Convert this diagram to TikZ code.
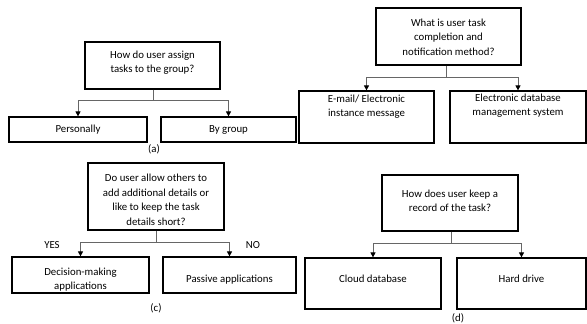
\documentclass[tikz,border=0pt]{standalone}
\usepackage{fontspec}
\setmainfont{Carlito}
\usetikzlibrary{arrows.meta}
\tikzset{
  box/.style={draw=black, line width=1.2pt, inner sep=0pt},
  txt/.style={align=center, inner sep=0pt, font=\fontsize{10.8}{14.5}\selectfont},
  conn/.style={draw=black!60, line width=0.8pt},
  arr/.style={conn, -{Triangle[width=5pt,length=5pt,color=black]}}
}
\begin{document}
\begin{tikzpicture}[x=1pt,y=-1pt]
\useasboundingbox (0,0) rectangle (587,324);
% (a)
\node[box, minimum width=135, minimum height=47] (qa) at (152.5,65.5) {};
\node[txt] (qat) at (152.5,62.5) {How do user assign\\tasks to the group?};
\node[box, minimum width=138, minimum height=25] (a1) at (78,129.5) {};
\node[txt] (a1t) at (78,129.5) {Personally};
\node[box, minimum width=135, minimum height=25] (a2) at (228.5,129.5) {};
\node[txt] (a2t) at (228.5,129.5) {By group};
\coordinate (sa) at (153,100);
\draw[conn] (qa.south -| sa) -- (sa);
\draw[arr] (sa) -| (a1.north);
\draw[arr] (sa) -| (a2.north);
\node[txt] (la) at (154,149) {(a)};
% (b)
\node[box, minimum width=145, minimum height=57] (qb) at (448.5,36.5) {};
\node[txt] (qbt) at (448.5,37) {What is user task\\completion and\\notification method?};
\node[box, minimum width=135, minimum height=52] (b1) at (366.5,117) {};
\node[txt] (b1t) at (366.5,106.5) {E-mail/ Electronic\\instance message};
\node[box, minimum width=136, minimum height=52] (b2) at (518,117) {};
\node[txt] (b2t) at (518,105.5) {Electronic database\\management system};
\coordinate (sb) at (446,77);
\draw[conn] (qb.south -| sb) -- (sb);
\draw[arr] (sb) -| (b1.north);
\draw[arr] (sb) -| (b2.north);
% (c)
\node[box, minimum width=136, minimum height=67] (qc) at (156,196.5) {};
\node[txt] (qct) at (156,200) {Do user allow others to\\add additional details or\\like to keep the task\\details short?};
\node[box, minimum width=137, minimum height=36] (c1) at (80.5,275) {};
\node[txt] (c1t) at (80.5,279.5) {Decision-making\\applications};
\node[box, minimum width=133, minimum height=36] (c2) at (229.5,275) {};
\node[txt] (c2t) at (229.5,279.5) {Passive applications};
\coordinate (sc) at (156,242);
\draw[conn] (qc.south -| sc) -- (sc);
\draw[arr] (sc) -| (c1.north);
\draw[arr] (sc) -| (c2.north);
\node[txt] (yes) at (52,245) {YES};
\node[txt] (no) at (253,245) {NO};
\node[txt] (lc) at (156,308) {(c)};
% (d)
\node[box, minimum width=136, minimum height=56] (qd) at (450,203) {};
\node[txt] (qdt) at (450,201) {How does user keep a\\record of the task?};
\node[box, minimum width=136, minimum height=51] (d1) at (373,283.5) {};
\node[txt] (d1t) at (373,279) {Cloud database};
\node[box, minimum width=129, minimum height=51] (d2) at (521.5,283.5) {};
\node[txt] (d2t) at (521.5,279) {Hard drive};
\coordinate (sd) at (451,243);
\draw[conn] (qd.south -| sd) -- (sd);
\draw[arr] (sd) -| (d1.north);
\draw[arr] (sd) -| (d2.north);
\node[txt] (ld) at (458,318.5) {(d)};
\end{tikzpicture}
\end{document}
